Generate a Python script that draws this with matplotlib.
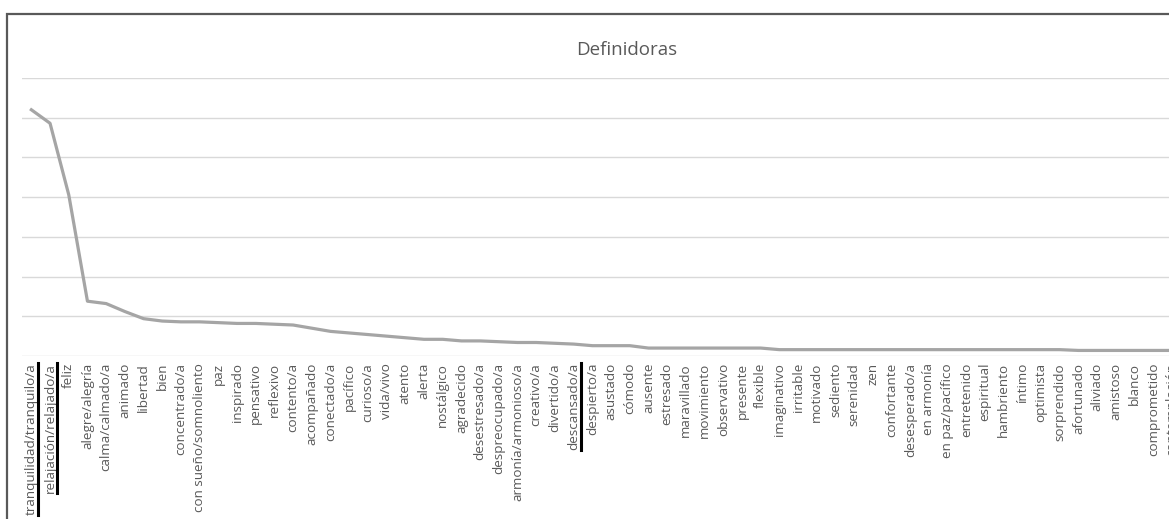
import matplotlib
matplotlib.use("Agg")
import matplotlib.pyplot as plt
from matplotlib.lines import Line2D
from matplotlib.patches import Rectangle

categories = [
    "tranquilidad/tranquilo/a", "relajación/relajado/a", "feliz", "alegre/alegría",
    "calma/calmado/a", "animado", "libertad", "bien", "concentrado/a",
    "con sueño/somnoliento", "paz", "inspirado", "pensativo", "reflexivo",
    "contento/a", "acompañado", "conectado/a", "pacífico", "curioso/a", "vida/vivo",
    "atento", "alerta", "nostálgico", "agradecido", "desestresado/a",
    "despreocupado/a", "armonía/armonioso/a", "creativo/a", "divertido/a",
    "descansado/a", "despierto/a", "asustado", "cómodo", "ausente", "estresado",
    "maravillado", "movimiento", "observativo", "presente", "flexible",
    "imaginativo", "irritable", "motivado", "sediento", "serenidad", "zen",
    "confortante", "desesperado/a", "en armonía", "en paz/pacífico", "entretenido",
    "espiritual", "hambriento", "íntimo", "optimista", "sorprendido", "afortunado",
    "aliviado", "amistoso", "blanco", "comprometido", "contemplación",
]
values = [
    310, 293, 203, 69, 66, 56, 47, 44, 43, 43,
    42, 41, 41, 40, 39, 35, 31, 29, 27, 25,
    23, 21, 21, 19, 19, 18, 17, 17, 16, 15,
    13, 13, 13, 10, 10, 10, 10, 10, 10, 10,
    8, 8, 8, 8, 8, 8, 8, 8, 8, 8,
    8, 8, 8, 8, 8, 8, 7, 7, 7, 7,
    7, 7,
]
highlighted = ["tranquilidad/tranquilo/a", "relajación/relajado/a", "descansado/a"]
title = "Definidoras"
n_slots = 65
y_ticks = [0, 50, 100, 150, 200, 250, 300, 350]

W, H = 1169, 519
fig = plt.figure(figsize=(W / 100, H / 100), dpi=100)
fig.patch.set_facecolor("white")

# outer chart frame (extends past the cropped image)
fig.patches.append(Rectangle((7 / W, -0.2), 1.3, (H - 14) / H + 0.2,
                             transform=fig.transFigure, fill=False,
                             edgecolor="#595959", linewidth=1.6))

left = 22 / W
width = n_slots * 18.7 / W
bottom = (H - 356) / H
top = (H - 78) / H
ax = fig.add_axes([left, bottom, width, top - bottom])
ax.set_facecolor("none")

x = list(range(len(categories)))
ax.plot(x, values, color="#a5a5a5", linewidth=2.3, solid_joinstyle="round", zorder=3)

ax.set_xlim(-0.5, n_slots - 0.5)
ax.set_ylim(y_ticks[0], y_ticks[-1])
ax.set_yticks(y_ticks)
ax.set_yticklabels([])
ax.yaxis.grid(True, color="#d9d9d9", linewidth=1.0)
ax.set_axisbelow(True)
ax.tick_params(axis="both", length=0)
for s in ax.spines.values():
    s.set_visible(False)

ax.set_xticks(x)
ax.set_xticklabels(categories, rotation=90, fontsize=9.7, color="#595959",
                   family="Open Sans", ha="center", va="top")
ax.tick_params(axis="x", pad=5)

fig.text(627 / W, (H - 50) / H, title, ha="center", va="center",
         fontsize=13.5, color="#595959", family="Open Sans")

# underline the highlighted labels (rotated text -> line on right side)
fig.canvas.draw()
renderer = fig.canvas.get_renderer()
for lab in ax.get_xticklabels():
    if lab.get_text() in highlighted:
        bb = lab.get_window_extent(renderer)
        xr = bb.x1 + 0.5
        fig.add_artist(Line2D([xr / W, xr / W], [bb.y0 / H, bb.y1 / H],
                              transform=fig.transFigure, color="black",
                              linewidth=2.2))

fig.savefig("out.png", dpi=100)
